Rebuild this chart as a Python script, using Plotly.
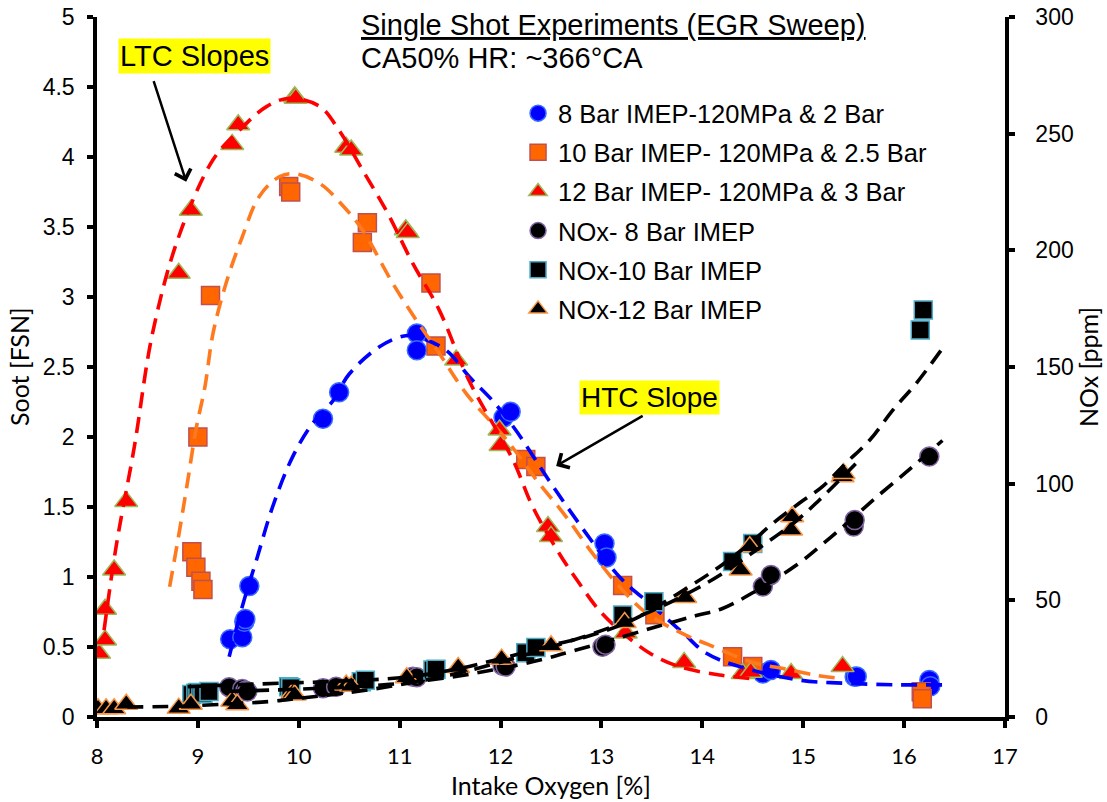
import plotly.graph_objects as go

# ---------------- data ----------------
# Soot, 8 bar IMEP (blue circles)
x_s8 = [9.32, 9.44, 9.46, 9.47, 9.51, 10.24, 10.40, 11.17, 11.17, 12.03, 12.10,
        13.03, 13.05, 14.60, 14.68, 15.51, 15.53, 16.25, 16.26]
soot_8 = [0.555, 0.57, 0.68, 0.70, 0.935, 2.13, 2.32, 2.74, 2.62, 2.14, 2.18,
          1.24, 1.14, 0.31, 0.336, 0.288, 0.29, 0.264, 0.22]

# Soot, 10 bar IMEP (orange squares)
x_s10 = [8.94, 8.98, 9.00, 9.03, 9.05, 9.125, 9.90, 9.92, 10.63, 10.68, 11.31,
         11.36, 12.25, 12.35, 13.21, 13.53, 14.30, 14.50, 16.17, 16.18]
soot_10 = [1.18, 1.07, 2.00, 0.97, 0.91, 3.01, 3.79, 3.75, 3.39, 3.53, 3.10,
           2.65, 1.84, 1.79, 0.94, 0.73, 0.43, 0.36, 0.18, 0.13]

# Soot, 12 bar IMEP (red triangles)
x_s12 = [8.02, 8.08, 8.08, 8.17, 8.29, 8.81, 8.93, 9.34, 9.40, 9.96, 9.97,
         10.47, 10.52, 11.06, 11.08, 11.56, 11.99, 12.00, 12.47, 12.50, 13.24,
         13.82, 14.40, 14.48, 14.88, 15.39]
soot_12 = [0.455, 0.55, 0.77, 1.05, 1.54, 3.17, 3.62, 4.09, 4.23, 4.43, 4.42,
           4.07, 4.05, 3.48, 3.46, 2.55, 2.05, 1.94, 1.36, 1.29, 0.60,
           0.39, 0.31, 0.32, 0.31, 0.36]

# NOx, 8 bar IMEP (black circles)
x_n8 = [9.31, 9.44, 9.47, 9.49, 10.24, 10.37, 11.13, 11.17, 12.02, 12.05,
        13.01, 13.04, 14.60, 14.68, 15.50, 15.51, 16.25]
nox_8 = [12.8, 12.0, 11.3, 10.9, 12.3, 13.0, 17.3, 17.0, 22.0, 21.6,
         30.1, 31.0, 55.9, 60.9, 81.6, 84.4, 111.6]

# NOx, 10 bar IMEP (black squares)
x_n10 = [8.94, 8.98, 9.00, 9.03, 9.05, 9.11, 9.90, 9.92, 10.62, 10.66, 11.33,
         11.36, 12.25, 12.35, 13.21, 13.52, 14.30, 14.50, 16.16, 16.19]
nox_10 = [9.6, 10.2, 10.5, 10.2, 10.2, 10.9, 13.0, 12.5, 15.1, 15.7, 20.1,
          20.5, 27.5, 29.8, 43.7, 49.4, 66.6, 74.4, 165.9, 174.4]

# NOx, 12 bar IMEP (black triangles)
x_n12 = [8.01, 8.09, 8.17, 8.29, 8.81, 8.93, 9.34, 9.39, 9.94, 9.96, 10.47,
         10.52, 11.07, 11.58, 12.01, 12.50, 13.23, 13.83, 14.38, 14.47, 14.88,
         14.89, 15.39, 15.40]
nox_12 = [3.5, 3.5, 3.5, 5.5, 3.8, 5.5, 6.8, 5.3, 10.2, 9.4, 13.7,
          13.2, 16.8, 21.2, 24.8, 30.5, 40.5, 51.2, 63.0, 73.0, 80.1,
          85.8, 103.0, 104.4]

# Trend lines
tr_x12 = [8.07, 8.19, 8.37, 8.55, 8.80, 9.15, 9.41, 9.68, 9.91, 10.21, 10.40,
          10.63, 10.88, 11.13, 11.39, 11.69, 12.12, 12.32, 12.58, 12.78, 12.98,
          13.18, 13.48, 13.77, 14.17, 14.55]
tr_s12 = [0.62, 1.22, 1.93, 2.74, 3.41, 3.98, 4.19, 4.36, 4.42, 4.36, 4.19,
          3.91, 3.60, 3.24, 2.91, 2.40, 1.84, 1.50, 1.17, 0.955, 0.76,
          0.62, 0.455, 0.36, 0.30, 0.27]

tr_x10 = [8.72, 8.82, 8.90, 8.98, 9.07, 9.15, 9.28, 9.44, 9.61, 9.81, 9.97,
          10.21, 10.44, 10.63, 10.93, 11.16, 11.39, 11.66, 12.06, 12.36, 12.65,
          12.91, 13.18, 13.45, 13.85, 14.05, 14.50, 14.85, 15.15, 15.32]
tr_s10 = [0.93, 1.34, 1.69, 2.05, 2.36, 2.74, 3.10, 3.43, 3.72, 3.86, 3.88,
          3.81, 3.65, 3.48, 3.10, 2.84, 2.60, 2.31, 1.98, 1.69, 1.43,
          1.17, 0.93, 0.74, 0.58, 0.52, 0.39, 0.34, 0.295, 0.28]

tr_x8 = [9.31, 9.44, 9.58, 9.74, 9.94, 10.14, 10.34, 10.50, 10.80, 11.03, 11.15,
         11.46, 11.69, 11.92, 12.15, 12.48, 12.85, 13.18, 13.51, 13.81, 14.04,
         14.37, 14.96, 15.45, 15.95, 16.42]
tr_s8 = [0.43, 0.79, 1.12, 1.50, 1.86, 2.10, 2.26, 2.45, 2.645, 2.72, 2.72,
         2.62, 2.43, 2.26, 2.05, 1.69, 1.31, 1.00, 0.79, 0.60, 0.455,
         0.36, 0.264, 0.24, 0.23, 0.23]

tr_xn8 = [9.30, 9.70, 10.30, 10.90, 11.43, 11.92, 12.39, 12.75, 13.18, 13.57,
          13.94, 14.20, 14.53, 14.93, 15.19, 15.46, 15.72, 16.05, 16.38]
tr_n8 = [11.0, 11.5, 12.5, 14.0, 16.6, 20.1, 24.4, 28.7, 34.0, 39.0,
         43.5, 46.5, 54.0, 65.0, 74.0, 84.0, 94.0, 106.0, 118.5]

tr_xn10 = [8.90, 9.50, 10.30, 11.00, 11.50, 12.00, 12.58, 12.85, 13.31, 13.80,
           14.17, 14.47, 14.70, 14.96, 15.19, 15.42, 15.66, 15.89, 16.12, 16.38]
tr_n10 = [13.0, 14.0, 15.2, 16.8, 20.0, 25.0, 31.6, 34.4, 41.6, 54.0,
          64.4, 74.4, 83.0, 91.6, 98.7, 108.7, 118.7, 131.6, 143.0, 158.0]

tr_xn12 = [8.30, 8.80, 9.30, 9.70, 10.00, 10.50, 11.00, 11.50, 12.00, 12.50,
           13.00, 13.50, 13.90, 14.20, 14.50, 14.93, 15.16, 15.52]
tr_n12 = [4.3, 4.6, 5.6, 6.6, 8.0, 10.5, 13.8, 18.0, 23.5, 30.0,
          37.0, 45.5, 54.0, 61.5, 70.5, 84.0, 93.0, 108.5]

legend_names = ["8 Bar IMEP-120MPa & 2 Bar", "10 Bar IMEP- 120MPa & 2.5 Bar",
                "12 Bar IMEP- 120MPa & 3 Bar", "NOx- 8 Bar IMEP",
                "NOx-10 Bar IMEP", "NOx-12 Bar IMEP"]

x_ticks = [8, 9, 10, 11, 12, 13, 14, 15, 16, 17]
soot_ticks = [0, 0.5, 1, 1.5, 2, 2.5, 3, 3.5, 4, 4.5, 5]
soot_tick_text = ["0", "0.5", "1", "1.5", "2", "2.5", "3", "3.5", "4", "4.5", "5"]
nox_ticks = [0, 50, 100, 150, 200, 250, 300]

# ---------------- figure ----------------
ARIAL = "Liberation Sans, Arial, sans-serif"
CAL = "Lato, Carlito, sans-serif"
fig = go.Figure()


def markers(x, y, name, symbol, size, fill, edge, yaxis="y"):
    fig.add_trace(go.Scatter(
        x=x, y=y, mode="markers", name=name, yaxis=yaxis, legendgroup=name,
        marker=dict(symbol=symbol, size=size, color=fill,
                    line=dict(color=edge, width=1.5)),
        hoverinfo="x+y"))


def trend(x, y, color, yaxis="y"):
    fig.add_trace(go.Scatter(
        x=x, y=y, mode="lines", yaxis=yaxis, showlegend=False,
        line=dict(color=color, width=3.6, dash="16px,9px", shape="spline",
                  smoothing=1.0),
        hoverinfo="skip"))


markers(x_s8, soot_8, legend_names[0], "circle", 19, "#0000FF", "#3A6BFF")
markers(x_s10, soot_10, legend_names[1], "square", 18, "#FF6600", "#C0504D")
markers(x_s12, soot_12, legend_names[2], "triangle-up", 20, "#FF0000", "#9BBB59")
trend(tr_x8, tr_s8, "#0000FF")
trend(tr_x10, tr_s10, "#FF7A1F")
trend(tr_x12, tr_s12, "#FF0000")

markers(x_n8, nox_8, legend_names[3], "circle", 19, "#000000", "#8064A2", "y2")
markers(x_n10, nox_10, legend_names[4], "square", 18, "#000000", "#4BACC6", "y2")
markers(x_n12, nox_12, legend_names[5], "triangle-up", 20, "#000000", "#F79646", "y2")
trend(tr_xn8, tr_n8, "#000000", "y2")
trend(tr_xn10, tr_n10, "#000000", "y2")
trend(tr_xn12, tr_n12, "#000000", "y2")

axis_common = dict(showline=True, linecolor="black", linewidth=3.5,
                   ticks="outside", tickcolor="black", tickwidth=3.5,
                   showgrid=False, zeroline=False, automargin=False,
                   ticklabeloverflow="allow")

fig.update_layout(
    width=1107, height=802,
    margin=dict(l=97, r=102, t=17, b=85),
    paper_bgcolor="white", plot_bgcolor="white",
    xaxis=dict(range=[8, 17], tickvals=x_ticks, ticklen=7,
               ticklabelstandoff=10,
               tickfont=dict(family=CAL, size=22, color="black"),
               **axis_common),
    yaxis=dict(range=[0, 5], tickvals=soot_ticks, ticktext=soot_tick_text,
               ticklen=6, ticklabelstandoff=8,
               tickfont=dict(family=ARIAL, size=23, color="black"),
               **axis_common),
    yaxis2=dict(range=[0, 300], tickvals=nox_ticks, overlaying="y",
                side="right", ticklen=6, ticklabelstandoff=16,
                tickfont=dict(family=ARIAL, size=23, color="black"),
                **axis_common),
    legend=dict(x=0.4637, y=0.8956, xanchor="left", yanchor="top",
                font=dict(family=ARIAL, size=25.5, color="black"),
                bgcolor="rgba(0,0,0,0)", tracegroupgap=3,
                itemsizing="trace"),
    showlegend=True,
)

annos = [
    dict(text="<u>Single Shot Experiments (EGR Sweep)</u>", x=0.2885, y=0.9886,
         xanchor="left", yanchor="middle",
         font=dict(family=ARIAL, size=29, color="black")),
    dict(text="CA50% HR: ~366°CA", x=0.2885, y=0.9414,
         xanchor="left", yanchor="middle",
         font=dict(family=ARIAL, size=29, color="black")),
    dict(text="LTC Slopes", x=0.1079, y=0.9436, xanchor="center",
         yanchor="middle", bgcolor="#FFFF00", borderpad=1,
         font=dict(family=ARIAL, size=29, color="black")),
    dict(text="HTC Slope", x=0.6085, y=0.4564, xanchor="center",
         yanchor="middle", bgcolor="#FFFF00", borderpad=1,
         font=dict(family=ARIAL, size=28, color="black")),
    dict(text="Intake Oxygen [%]", x=0.5, y=(717 - 785) / 700,
         xanchor="center", yanchor="middle",
         font=dict(family=CAL, size=25, color="black")),
    dict(text="Soot [FSN]", x=(19 - 97) / 908, y=0.5, textangle=-90,
         xanchor="center", yanchor="middle",
         font=dict(family=CAL, size=25, color="black")),
    dict(text="NOx [ppm]", x=(1088 - 97) / 908, y=0.5, textangle=-90,
         xanchor="center", yanchor="middle",
         font=dict(family=CAL, size=25, color="black")),
]
for a in annos:
    a.update(xref="paper", yref="paper", showarrow=False)
    fig.add_annotation(**a)

# arrows
fig.add_annotation(x=8.884, y=3.824, xref="x", yref="y", text="",
                   showarrow=True, ax=-33, ay=-102, arrowhead=4,
                   arrowsize=1.3, arrowwidth=2.5, arrowcolor="black")
fig.add_annotation(x=12.551, y=1.793, xref="x", yref="y", text="",
                   showarrow=True, ax=88, ay=-51, arrowhead=4,
                   arrowsize=1.3, arrowwidth=2.5, arrowcolor="black")

# remove the default 8px page margin so the figure fills the window exactly
fig.write_html(
    "out.html",
    config={"displayModeBar": False},
    post_script=("document.documentElement.style.margin='0';"
                 "document.body.style.margin='0';"
                 "document.body.style.overflow='hidden';"))
